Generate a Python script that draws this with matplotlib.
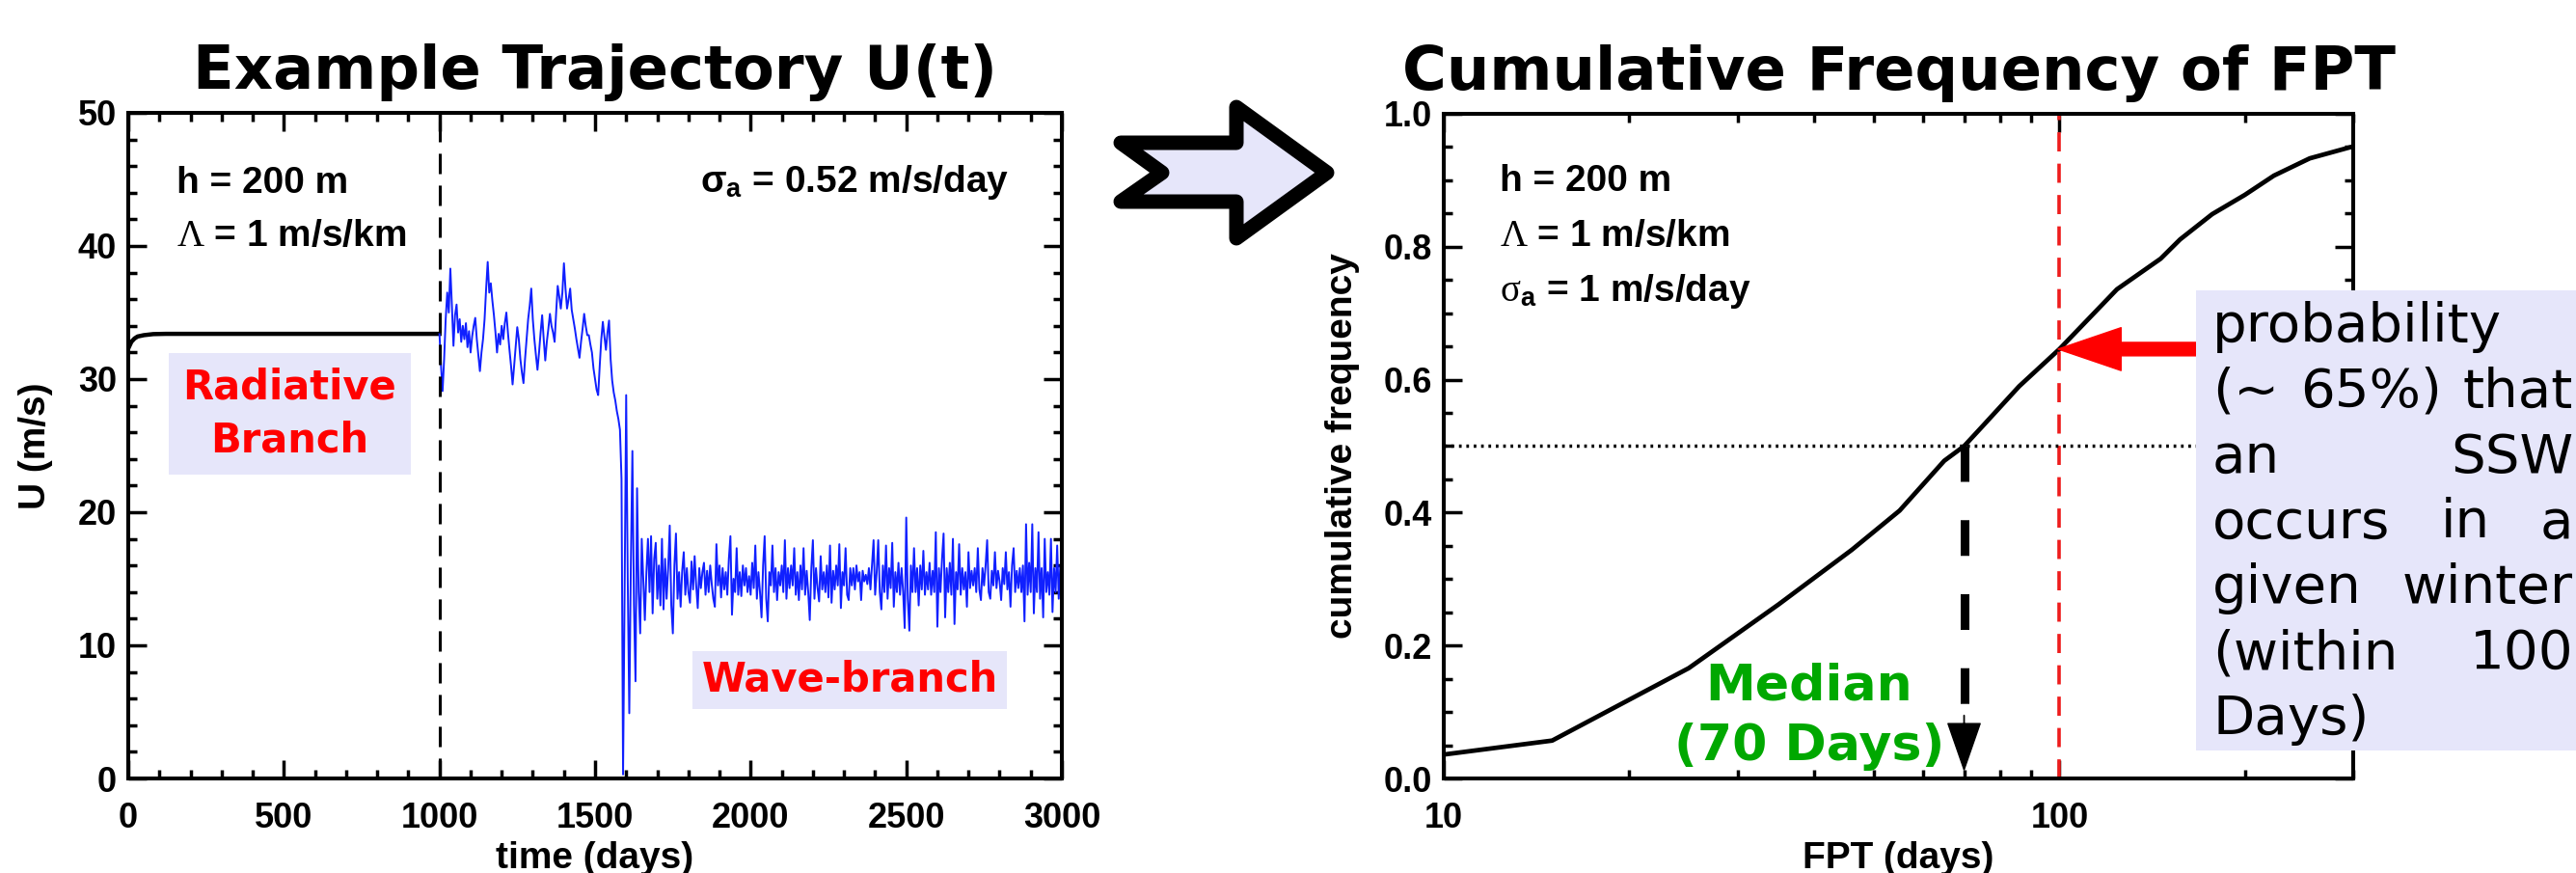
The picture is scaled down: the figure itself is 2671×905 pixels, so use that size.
import numpy as np
import matplotlib
matplotlib.use('Agg')
import matplotlib.pyplot as plt
from matplotlib.patches import Polygon, Rectangle
from matplotlib.ticker import MultipleLocator, NullFormatter, FixedLocator, FormatStrFormatter, LogLocator

W, H, DPI = 2671, 905, 100

# ---------------- data: left panel, trajectory U(t) ----------------
# radiative branch (deterministic spin-up, drawn in black)
rad_days = [0, 10, 20, 30, 50, 80, 120, 1000]
rad_u = [32.3, 32.8, 33.05, 33.2, 33.3, 33.38, 33.4, 33.4]

# stochastic run, one value every 5 days from day 1000 to day 3000
u_radiative_noise = [  # days 1000-1580
    33.4, 31.0, 29.1, 31.5, 34.5, 36.5, 35.0, 38.3, 35.5, 32.5,
    34.8, 35.6, 33.5, 34.5, 32.8, 34.0, 33.0, 34.2, 32.4, 33.6,
    32.0, 33.2, 34.0, 34.6, 33.0, 31.8, 30.6, 32.0, 33.0, 34.5,
    36.8, 38.8, 36.5, 37.2, 35.9, 34.8, 33.5, 32.0, 33.4, 32.6,
    34.0, 33.0, 34.2, 35.0, 33.5, 32.2, 31.0, 29.6, 31.0, 32.5,
    33.9, 33.0, 31.5, 30.5, 29.7, 31.5, 33.0, 34.5, 35.5, 36.8,
    34.5, 33.0, 31.8, 30.7, 32.0, 33.5, 34.8, 33.0, 31.4, 32.8,
    33.8, 34.9, 34.0, 33.5, 32.8, 35.0, 37.0, 36.2, 35.3, 36.5,
    38.7, 36.8, 35.3, 36.0, 36.8, 35.2, 34.5, 33.8, 33.0, 32.3,
    31.6, 32.8, 33.8, 34.9, 34.0, 33.3, 33.3, 32.6, 32.0, 30.8,
    30.0, 29.2, 28.8, 31.0, 33.0, 34.3, 33.2, 32.2, 33.5, 34.4,
    31.5, 29.9, 29.0, 28.4, 27.6, 27.0, 26.2,
]
u_transition = [  # days 1585-1670
    22.5, 0.3, 14.0, 28.8, 15.0, 4.9, 16.0, 24.6, 13.0, 7.3,
    21.8, 14.0, 10.9, 18.0, 15.0, 11.9, 15.5, 18.0,
]
u_wave_branch = [  # days 1675-3000
    14.0, 18.2, 12.4, 16.5, 17.7, 13.5, 16.0, 13.0, 18.0, 12.7,
    16.5, 13.5, 15.8, 19.0, 13.0, 10.9, 16.0, 18.4, 13.5, 15.5,
    12.9, 15.6, 17.0, 13.8, 15.8, 14.0, 13.2, 16.3, 14.2, 16.7,
    14.5, 12.8, 15.8, 14.3, 15.5, 16.2, 13.8, 15.6, 14.0, 16.0,
    14.6, 13.5, 12.9, 17.6, 14.5, 16.0, 13.6, 15.8, 14.2, 15.5,
    13.8, 16.5, 18.2, 12.3, 15.0, 14.0, 17.3, 13.8, 15.5, 13.7,
    16.0, 14.5, 15.8, 14.0, 15.2, 13.8, 16.2, 14.3, 17.5, 13.5,
    15.5, 14.0, 12.1, 16.0, 18.2, 13.5, 11.8, 15.5, 14.5, 17.5,
    14.0, 15.8, 13.4, 15.5, 14.5, 16.0, 14.0, 17.9, 13.5, 15.8,
    14.3, 16.0, 14.5, 17.3, 13.8, 15.5, 13.4, 16.0, 14.2, 17.3,
    13.8, 15.6, 14.0, 11.9, 15.8, 17.9, 13.5, 15.8, 14.3, 13.3,
    16.7, 14.2, 15.5, 14.0, 16.0, 13.6, 17.5, 13.2, 15.6, 14.2,
    16.0, 14.5, 17.6, 12.8, 15.5, 14.5, 17.3, 13.8, 13.4, 15.8,
    14.5, 15.8, 14.2, 16.0, 14.8, 15.5, 13.4, 15.6, 14.8, 15.3,
    14.6, 15.8, 14.2, 16.0, 17.9, 13.8, 15.5, 17.9, 14.0, 12.7,
    16.0, 14.0, 17.5, 13.5, 15.8, 14.3, 17.7, 12.9, 15.5, 14.0,
    16.2, 13.8, 15.8, 14.0, 11.3, 19.6, 13.5, 11.1, 16.0, 14.0,
    17.3, 14.0, 15.8, 13.0, 16.0, 14.2, 17.1, 13.8, 15.5, 14.2,
    16.2, 13.8, 15.6, 14.0, 18.5, 11.4, 15.8, 14.0, 16.5, 18.4,
    12.1, 15.8, 14.0, 16.2, 13.8, 18.0, 11.6, 15.5, 14.2, 17.6,
    13.8, 15.8, 14.2, 15.5, 12.9, 17.0, 14.3, 15.6, 14.5, 15.8,
    14.0, 17.3, 14.2, 13.4, 15.8, 14.5, 16.0, 17.9, 14.0, 13.5,
    15.6, 14.5, 17.0, 14.3, 15.6, 14.8, 13.4, 15.8, 14.6, 17.0,
    14.2, 15.5, 12.9, 16.0, 17.3, 14.0, 15.6, 14.3, 15.8, 14.0,
    16.0, 11.8, 19.1, 13.8, 16.2, 14.0, 19.1, 12.4, 15.8, 14.0,
    18.5, 13.5, 15.8, 12.1, 18.0, 14.0, 15.5, 13.8, 18.0, 12.5,
    15.8, 14.0, 17.5, 13.5, 16.0, 15.0,
]
run_days = np.arange(1000, 3001, 5)
run_u = u_radiative_noise + u_transition + u_wave_branch
assert len(run_u) == len(run_days)

# ---------------- data: right panel, cumulative frequency of FPT ----------------
fpt_days = [10, 15, 25, 35, 46, 55, 65, 70, 75, 86, 100, 124, 146, 157, 177, 200, 223, 255, 300]
cum_freq = [0.036, 0.057, 0.166, 0.262, 0.344, 0.403, 0.478, 0.50, 0.530, 0.590,
            0.646, 0.736, 0.782, 0.811, 0.849, 0.878, 0.907, 0.933, 0.951]
fpt_median = 70
fpt_window = 100

prob_lines = ['probability', '(~ 65%) that', 'an SSW', 'occurs in a',
              'given winter', '(within 100', 'Days)']

# ---------------- style ----------------
plt.rcParams['font.family'] = ['Liberation Sans', 'DejaVu Sans']
plt.rcParams['font.weight'] = 'bold'
plt.rcParams['axes.labelweight'] = 'bold'
plt.rcParams['axes.titleweight'] = 'bold'
plt.rcParams['axes.linewidth'] = 2.9
plt.rcParams['mathtext.fontset'] = 'custom'
plt.rcParams['mathtext.rm'] = 'Liberation Serif:weight=normal:style=normal'
plt.rcParams['mathtext.it'] = 'Liberation Serif:weight=normal:style=italic'
plt.rcParams['mathtext.bf'] = 'Liberation Sans:weight=bold'

LAVENDER = '#e6e6fa'

fig = plt.figure(figsize=(W / DPI, H / DPI), dpi=DPI)


def axes_px(left, top, right, bottom):
    return fig.add_axes([left / W, 1 - bottom / H, (right - left) / W, (bottom - top) / H])


def style_ticks(ax, xpad):
    ax.tick_params(which='both', direction='in', top=True, right=True, width=2.5, labelsize=26)
    ax.tick_params(which='major', length=13.7)
    ax.tick_params(which='minor', length=6.5)
    ax.tick_params(axis='x', pad=xpad)
    ax.tick_params(axis='y', pad=8.5)


# ---------------- left panel ----------------
ax1 = axes_px(133, 117, 1101, 807)
ax1.plot(rad_days, rad_u, color='black', lw=3.2)
ax1.plot(run_days, run_u, color='#1020ff', lw=1.4)
ax1.axvline(1000, color='black', lw=2.2, dashes=(6.9, 3.9))
ax1.set_xlim(0, 3000)
ax1.set_ylim(0, 50)
ax1.xaxis.set_major_locator(MultipleLocator(500))
ax1.xaxis.set_minor_locator(MultipleLocator(100))
ax1.yaxis.set_major_locator(MultipleLocator(10))
ax1.yaxis.set_minor_locator(MultipleLocator(2))
style_ticks(ax1, 17)
ax1.set_xlabel('time (days)', fontsize=28)
ax1.xaxis.set_label_coords(0.5, -0.094)
ax1.set_ylabel('U (m/s)', fontsize=28)
ax1.yaxis.set_label_coords(-0.0806, 0.5)
ax1.set_title('Example Trajectory U(t)', fontsize=45, family='DejaVu Sans', y=1.036, pad=0)

ax1.text(0.0517, 0.880, 'h = 200 m', transform=ax1.transAxes, fontsize=28)
ax1.text(0.0517, 0.800, r'$\Lambda$ = 1 m/s/km', transform=ax1.transAxes, fontsize=28)
ax1.text(0.6126, 0.881, r'$\mathbf{\sigma}_{\mathbf{a}}$ = 0.52 m/s/day', transform=ax1.transAxes, fontsize=28)

ax1.text(0.173, 0.548, 'Radiative\nBranch', transform=ax1.transAxes, ha='center', va='center',
         color='red', fontsize=30, family='DejaVu Sans', linespacing=1.38,
         bbox=dict(boxstyle='square,pad=0.36', fc=LAVENDER, ec='none'))
ax1.text(0.773, 0.148, 'Wave-branch', transform=ax1.transAxes, ha='center', va='center',
         color='red', fontsize=30, family='DejaVu Sans',
         bbox=dict(boxstyle='square,pad=0.22', fc=LAVENDER, ec='none'))

# ---------------- right panel ----------------
ax2 = axes_px(1497, 118, 2440, 807)
ax2.set_xscale('log')
ax2.plot(fpt_days, cum_freq, color='black', lw=3.4)
ax2.axvline(fpt_window, color='#ee1c1c', lw=2.6, dashes=(5.5, 3.5))
ax2.axhline(0.5, color='black', lw=2.5, dashes=(0.8, 1.4))
ax2.plot([fpt_median, fpt_median], [0.5, 0.085], color='black', lw=6.5, dashes=(4.1, 4.4))
ax2.annotate('', xy=(fpt_median, 0.013), xytext=(fpt_median, 0.095),
             arrowprops=dict(arrowstyle='simple,head_length=3.45,head_width=2.4,tail_width=0.01',
                             mutation_scale=10, color='black', shrinkA=0, shrinkB=0))
p_window = np.interp(np.log10(fpt_window), np.log10(fpt_days), cum_freq)
ax2.annotate('', xy=(fpt_window * 0.995, p_window), xytext=(fpt_window * 1.9, p_window),
             arrowprops=dict(arrowstyle='simple,head_length=4.7,head_width=3.2,tail_width=1.0',
                             mutation_scale=10, color='#ff0000', shrinkA=0, shrinkB=0))
ax2.set_xlim(10, 300)
ax2.set_ylim(0, 1)
ax2.xaxis.set_major_locator(FixedLocator([10, 100]))
ax2.xaxis.set_major_formatter(FormatStrFormatter('%d'))
ax2.xaxis.set_minor_locator(LogLocator(base=10, subs=np.arange(2, 10)))
ax2.xaxis.set_minor_formatter(NullFormatter())
ax2.yaxis.set_major_locator(MultipleLocator(0.2))
ax2.yaxis.set_minor_locator(MultipleLocator(0.05))
ax2.yaxis.set_major_formatter(FormatStrFormatter('%.1f'))
style_ticks(ax2, 17)
ax2.set_xlabel('FPT (days)', fontsize=28)
ax2.xaxis.set_label_coords(0.5, -0.094)
ax2.set_ylabel('cumulative frequency', fontsize=28)
ax2.yaxis.set_label_coords(-0.0923, 0.5)
ax2.set_title('Cumulative Frequency of FPT', fontsize=45, family='DejaVu Sans', y=1.036, pad=0)

ax2.text(0.0615, 0.884, 'h = 200 m', transform=ax2.transAxes, fontsize=28)
ax2.text(0.0615, 0.801, r'$\Lambda$ = 1 m/s/km', transform=ax2.transAxes, fontsize=28)
ax2.text(0.0615, 0.718, r'$\mathrm{\sigma}_{\mathbf{a}}$ = 1 m/s/day', transform=ax2.transAxes, fontsize=28)

green = '#00a800'
ax2.text(0.402, 0.1176, 'Median', transform=ax2.transAxes, ha='center', va='baseline',
         color=green, fontsize=37.5, family='DejaVu Sans')
ax2.text(0.402, 0.0276, '(%d Days)' % fpt_median, transform=ax2.transAxes, ha='center', va='baseline',
         color=green, fontsize=37.5, family='DejaVu Sans')

# ---------------- block arrow between the panels ----------------
arrow_px = [(1162, 148), (1282, 148), (1282, 111), (1376, 179),
            (1282, 247), (1282, 209), (1162, 209), (1205, 179)]
fig.add_artist(Polygon([(x / W, 1 - y / H) for x, y in arrow_px], closed=True,
                       transform=fig.transFigure, fc=LAVENDER, ec='black', lw=10.8, joinstyle='round'))

# ---------------- probability box (justified text) ----------------
fig.add_artist(Rectangle((2277 / W, 1 - 778 / H), (W - 2277 + 10) / W, (778 - 301) / H,
                         transform=fig.transFigure, fc=LAVENDER, ec='none', zorder=2))

fig.canvas.draw()
renderer = fig.canvas.get_renderer()
x_left, x_right = 2294, 2668
txt_kw = dict(fontsize=40.5, family='DejaVu Sans', weight='normal', color='black',
              ha='left', va='baseline', zorder=3)
for i, line in enumerate(prob_lines):
    y = 1 - (354 + i * 67.8) / H
    words = line.split()
    if len(words) == 1 or i == len(prob_lines) - 1:
        fig.text(x_left / W, y, line, **txt_kw)
        continue
    items = [fig.text(0, y, w, **txt_kw) for w in words]
    widths = [t.get_window_extent(renderer).width for t in items]
    gap = (x_right - x_left - sum(widths)) / (len(words) - 1)
    x = x_left
    for t, w in zip(items, widths):
        t.set_x(x / W)
        x += w + gap

fig.savefig('out.png', dpi=DPI)
